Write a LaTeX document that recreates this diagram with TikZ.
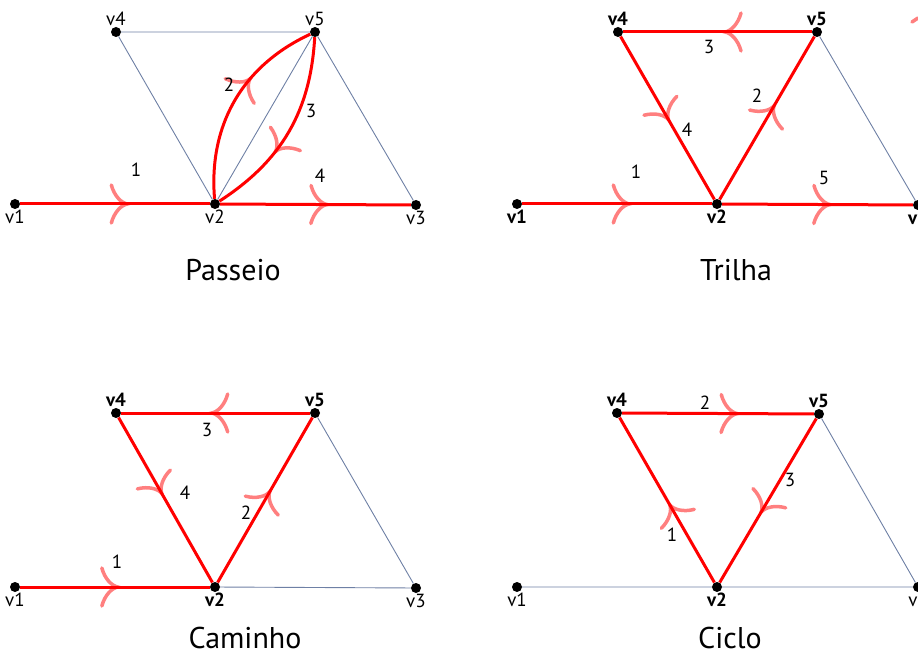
\documentclass[tikz,border=0pt]{standalone}
\usepackage{fontspec}
\setmainfont{PT Sans}
\usetikzlibrary{decorations.markings}
\tikzset{
  vtx/.style={circle,fill=black,inner sep=0pt,minimum size=10pt},
  lab/.style={font=\fontsize{19}{19}\selectfont, inner sep=1pt},
  blab/.style={font=\fontsize{19}{19}\selectfont\bfseries, inner sep=1pt},
  thinedge/.style={draw={rgb,255:red,110;green,128;blue,165}, line width=0.9pt},
  redge/.style={draw=red, line width=3pt},
  arr/.style={draw=red, draw opacity=0.5, line width=3.5pt, line cap=round},
  arrowat/.style={postaction={decorate, decoration={markings, mark=at position #1 with {\draw[arr] (-16pt,19pt) .. controls (-13pt,8pt) and (-6pt,1pt) .. (0pt,0pt) .. controls (-6pt,-1pt) and (-13pt,-8pt) .. (-16pt,-19pt);}}}},
  ttl/.style={font=\fontsize{30}{30}\selectfont, anchor=base}
}
\begin{document}
\begin{tikzpicture}[x=1pt,y=-1pt]
\useasboundingbox (0,0) rectangle (918,652);
% Passeio
\node[vtx,label={[lab]below:v1}] (a1) at (15,204) {};
\node[vtx,label={[lab]below:v2}] (a2) at (215,204) {};
\node[vtx,label={[lab]below:v3}] (a3) at (416,205) {};
\node[vtx,label={[lab]above:v4}] (a4) at (116,32) {};
\node[vtx,label={[lab]above:v5}] (a5) at (315,32) {};
\draw[thinedge] (a4)--(a5) (a4)--(a2) (a2)--(a5) (a5)--(a3);
\draw[redge,arrowat=0.565] (a1)--(a2);
\draw[redge,arrowat=0.56] (a2)--(a3);
\draw[redge,arrowat=0.63] (a2) to[bend left=35] (a5);
\draw[redge,arrowat=0.62] (a5) to[bend left=27] (a2);
\node[lab] (a1l) at (136,170) {1};
\node[lab] (a2l) at (229,85) {2};
\node[lab] (a3l) at (311,111) {3};
\node[lab] (a4l) at (320,176) {4};
\node[ttl] (at) at (233,280) {Passeio};
% Trilha
\begin{scope}[shift={(502,0)}]
\node[vtx,label={[blab]below:v1}] (b1) at (15,204) {};
\node[vtx,label={[blab]below:v2}] (b2) at (215,204) {};
\node[vtx,label={[blab]below:v3}] (b3) at (416,205) {};
\node[vtx,label={[blab]above:v4}] (b4) at (116,32) {};
\node[vtx,label={[blab]above:v5}] (b5) at (315,32) {};
\draw[thinedge] (b5)--(b3);
\draw[redge,arrowat=0.565] (b1)--(b2);
\draw[redge,arrowat=0.575] (b2)--(b5);
\draw[redge,arrowat=0.46] (b5)--(b4);
\draw[redge,arrowat=0.51] (b4)--(b2);
\draw[redge,arrowat=0.565] (b2)--(b3);
\node[lab] (b1l) at (134,172) {1};
\node[lab] (b2l) at (255,96) {2};
\node[lab] (b3l) at (207,47) {3};
\node[lab] (b4l) at (185,130) {4};
\node[lab] (b5l) at (322,178) {5};
\draw[arr] (410,22) -- (416,18);
\end{scope}
\node[ttl] (bt) at (736,280) {Trilha};
% Caminho
\begin{scope}[shift={(0,382)}]
\node[vtx,label={[lab]below:v1}] (c1) at (15,205) {};
\node[vtx,label={[blab]below:v2}] (c2) at (215,205) {};
\node[vtx,label={[lab]below:v3}] (c3) at (416,206) {};
\node[vtx,label={[blab]above:v4}] (c4) at (116,31) {};
\node[vtx,label={[blab]above:v5}] (c5) at (315,31) {};
\draw[thinedge] (c2)--(c3) (c5)--(c3);
\draw[redge,arrowat=0.515] (c1)--(c2);
\draw[redge,arrowat=0.55] (c2)--(c5);
\draw[redge,arrowat=0.52] (c5)--(c4);
\draw[redge,arrowat=0.46] (c4)--(c2);
\node[lab] (c1l) at (117,180) {1};
\node[lab] (c2l) at (246,131) {2};
\node[lab] (c3l) at (207,48) {3};
\node[lab] (c4l) at (185,111) {4};
\end{scope}
\node[ttl] (ct) at (245,648) {Caminho};
% Ciclo
\begin{scope}[shift={(502,382)}]
\node[vtx,label={[lab]below:v1}] (d1) at (15,205) {};
\node[vtx,label={[blab]below:v2}] (d2) at (215,205) {};
\node[vtx,label={[lab]below:v3}] (d3) at (416,205) {};
\node[vtx,label={[blab]above:v4}] (d4) at (115,31) {};
\node[vtx,label={[blab]above:v5}] (d5) at (317,32) {};
\draw[thinedge] (d1)--(d2) (d2)--(d3) (d5)--(d3);
\draw[redge,arrowat=0.47] (d2)--(d4);
\draw[redge,arrowat=0.6] (d4)--(d5);
\draw[redge,arrowat=0.57] (d5)--(d2);
\node[lab] (d1l) at (170,153) {1};
\node[lab] (d2l) at (203,21) {2};
\node[lab] (d3l) at (288,98) {3};
\end{scope}
\node[ttl] (dt) at (730,648) {Ciclo};
\end{tikzpicture}
\end{document}
